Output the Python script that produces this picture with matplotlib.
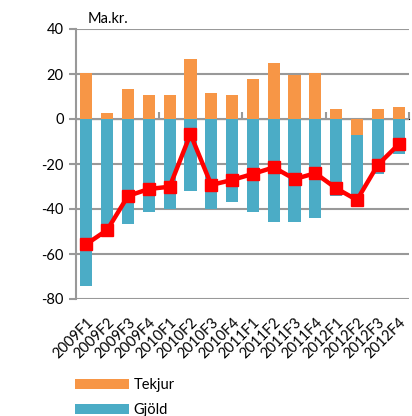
import numpy as np
import matplotlib
matplotlib.use("Agg")
import matplotlib.pyplot as plt

plt.rcParams["font.family"] = ["Lato", "DejaVu Sans"]
plt.rcParams["axes.unicode_minus"] = False

quarters = ["2009F1", "2009F2", "2009F3", "2009F4",
            "2010F1", "2010F2", "2010F3", "2010F4",
            "2011F1", "2011F2", "2011F3", "2011F4",
            "2012F1", "2012F2", "2012F3", "2012F4"]
tekjur = [20.3, 2.5, 13.2, 10.5, 10.5, 26.5, 11.4, 10.5,
          17.6, 24.7, 19.4, 20.3, 4.3, -7.1, 4.3, 5.2]
gjold = [-74.1, -50.0, -46.8, -41.5, -40.1, -31.9, -40.1, -37.0,
         -41.5, -45.9, -45.9, -44.1, -34.2, -26.7, -24.4, -15.6]
jofnudur = [-55.6, -49.3, -34.2, -31.1, -30.1, -6.7, -29.3, -27.1,
            -24.4, -21.5, -26.7, -24.1, -30.8, -36.0, -20.4, -11.3]
yticks = [-80, -60, -40, -20, 0, 20, 40]

orange = "#F79646"
blue = "#4BACC6"
grey = "#999999"

x = np.arange(len(quarters))
tek = np.array(tekjur)
gj = np.array(gjold)
gj_bottom = np.minimum(tek, 0)

fig = plt.figure(figsize=(4.12, 4.16), dpi=100)
ax = fig.add_axes([76 / 412, 1 - 299 / 416, 333 / 412, 270 / 416])

ax.bar(x, tek, width=0.58, color=orange, label="Tekjur", zorder=2)
ax.bar(x, gj, width=0.58, bottom=gj_bottom, color=blue, label="Gjöld", zorder=2)
ax.plot(x, jofnudur, color="#FF0000", lw=3.2, marker="s", ms=9, zorder=4)

ax.set_xlim(-0.5, len(quarters) - 0.5)
ax.set_ylim(-80, 40)
ax.set_yticks(yticks)
ax.yaxis.grid(True, color=grey, lw=1.5, zorder=0)
ax.set_axisbelow(True)
ax.tick_params(axis="y", length=5, width=1.5, color=grey, labelsize=10.5, pad=4)

ax.set_xticks(x)
ax.set_xticklabels(quarters, rotation=45, ha="right", va="top",
                   rotation_mode="anchor", fontsize=10.5)
ax.tick_params(axis="x", length=0, pad=12)

for s in ["top", "right", "bottom"]:
    ax.spines[s].set_visible(False)
ax.spines["left"].set_color(grey)
ax.spines["left"].set_linewidth(1.5)

# category axis crossing at zero, with tick marks every four quarters
sec = ax.secondary_xaxis(2 / 3)
sec.set_xticks([3.5, 7.5, 11.5, 15.5])
sec.set_xticklabels([])
sec.tick_params(length=5, width=1.5, color=grey, direction="out")
sec.spines["bottom"].set_color(grey)
sec.spines["bottom"].set_linewidth(1.5)

fig.text(88 / 412, 1 - 19 / 416, "Ma.kr.", fontsize=10.5, va="center", ha="left")

fig.legend(loc="upper left", bbox_to_anchor=(75 / 412, 1 - 378 / 416),
           frameon=False, fontsize=10.5, handlelength=3.7, handleheight=0.7,
           handletextpad=0.3, labelspacing=0.75, borderpad=0, borderaxespad=0)

fig.savefig("out.png", dpi=100)
